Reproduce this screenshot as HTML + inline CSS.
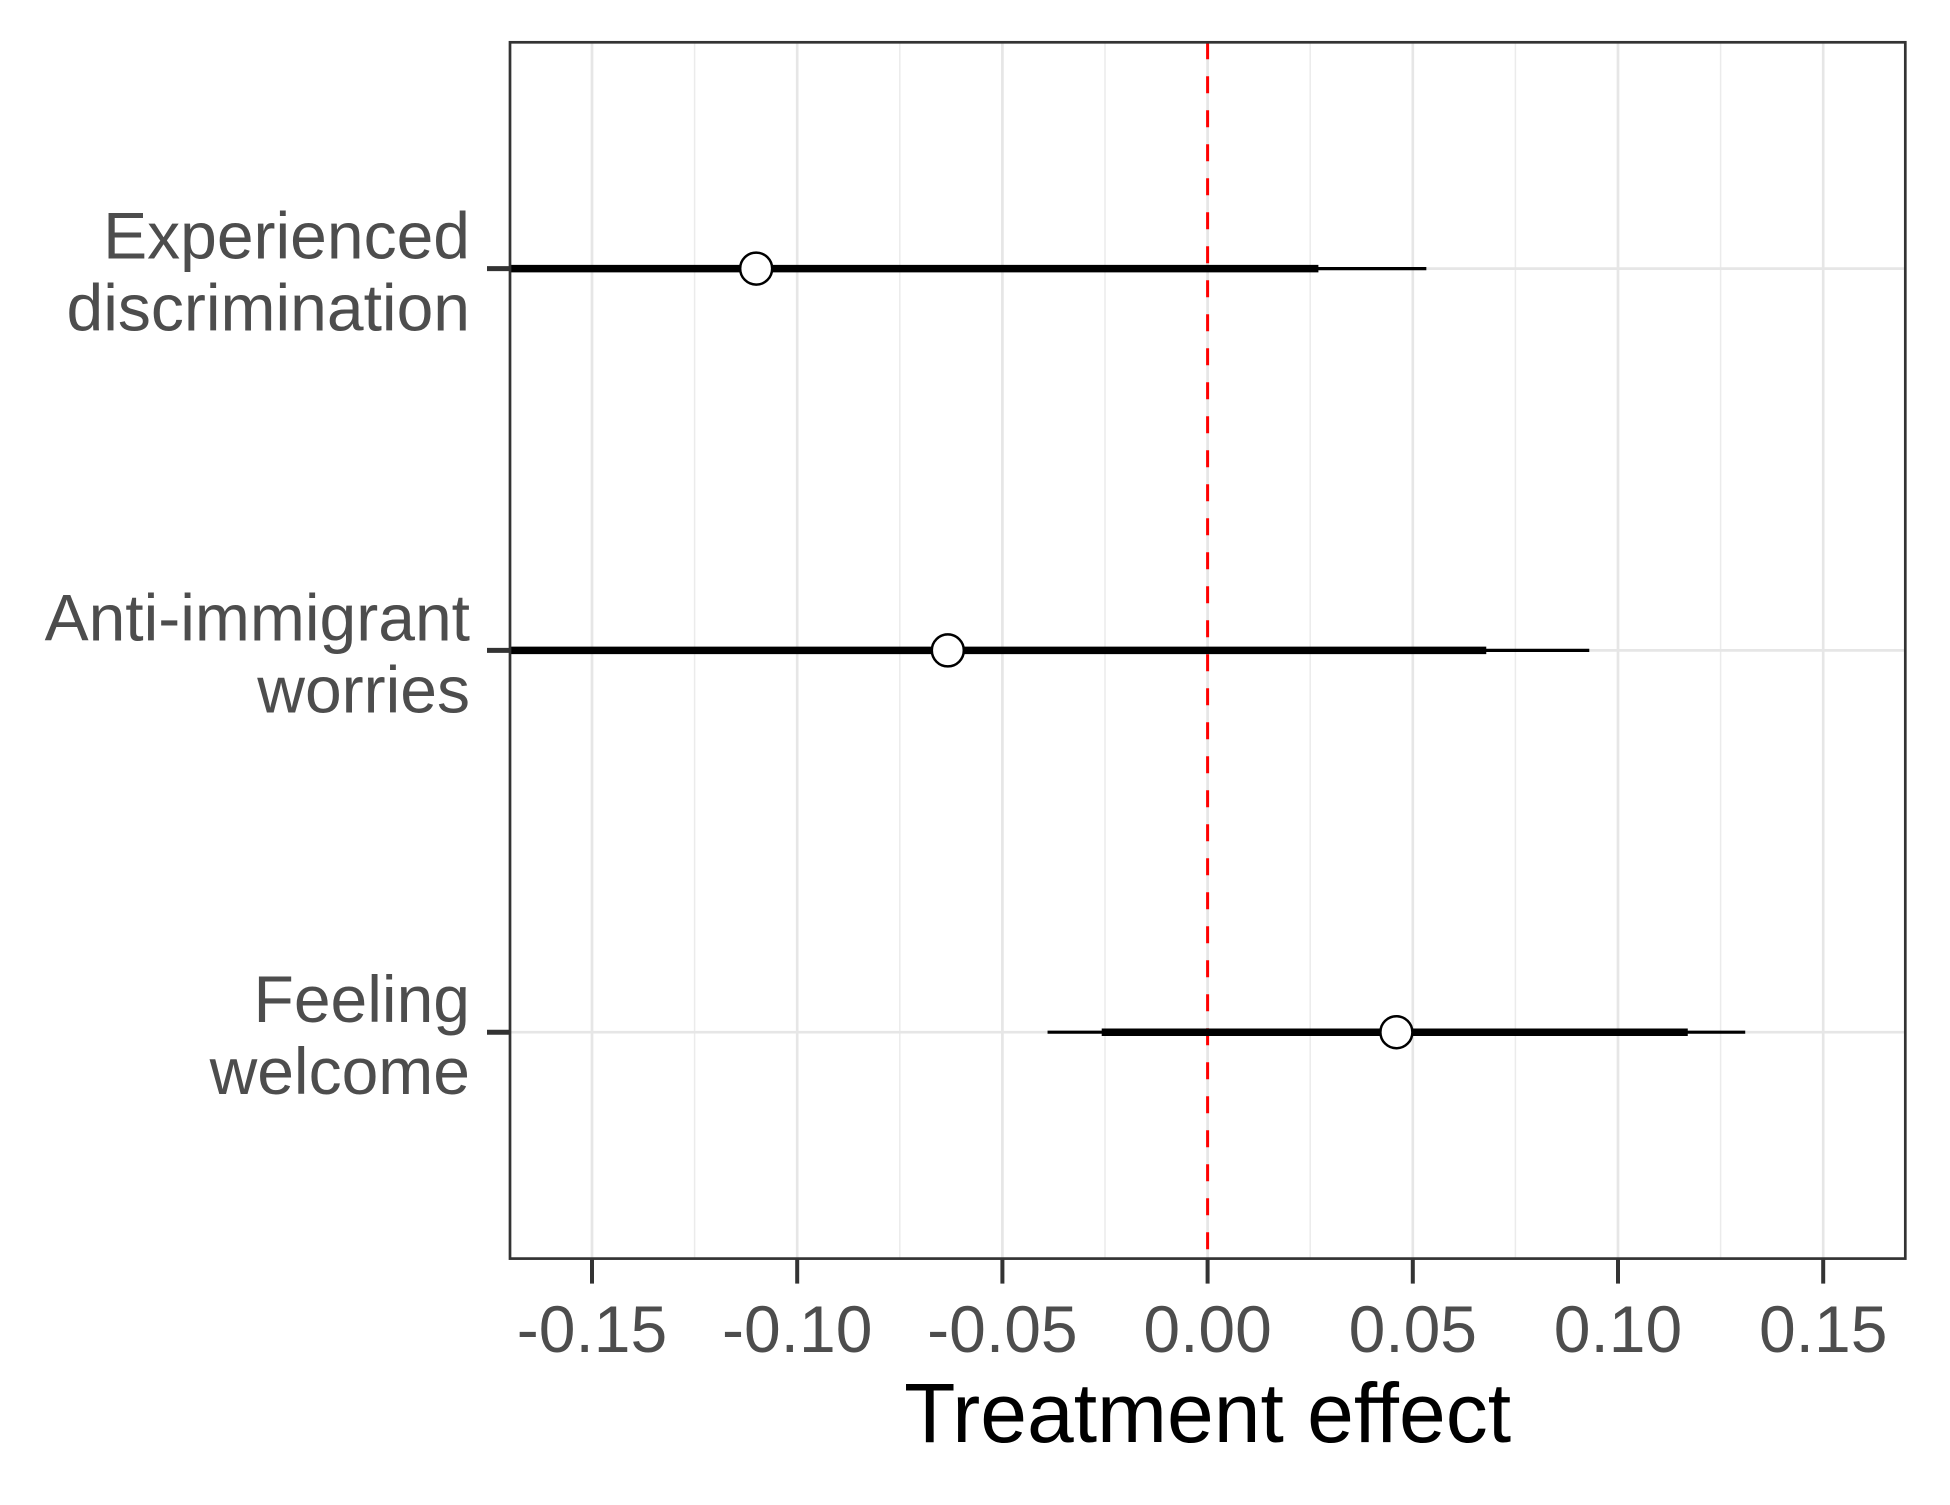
<!DOCTYPE html>
<html><head><meta charset="utf-8"><style>
html,body{margin:0;padding:0;background:#fff;}
svg text{font-family:"Liberation Sans",Arial,sans-serif;}
</style></head><body>
<svg id="chart" width="1950" height="1500" xmlns="http://www.w3.org/2000/svg"></svg>
<script>
const categories = ["Experienced\ndiscrimination", "Anti-immigrant\nworries", "Feeling\nwelcome"];
const estimates = [-0.110, -0.0633, 0.046];
const innerLow = [-0.247, -0.194, -0.0258];
const innerHigh = [0.027, 0.0679, 0.117];
const outerLow = [-0.273, -0.220, -0.039];
const outerHigh = [0.0533, 0.093, 0.131];
const xTicks = [-0.15, -0.10, -0.05, 0.00, 0.05, 0.10, 0.15];
const xTickLabels = ["-0.15", "-0.10", "-0.05", "0.00", "0.05", "0.10", "0.15"];
const minorTicks = [-0.125, -0.075, -0.025, 0.025, 0.075, 0.125];

const NS = "http://www.w3.org/2000/svg";
const svg = document.getElementById("chart");
const P = {l:510, t:42.3, r:1905.3, b:1258.6};
const x = v => 1207.6 + v * (615.6/0.15);
const yPos = [268.6, 650.4, 1032.2];
const y = i => yPos[i];
function mk(tag, attrs, parent){const e=document.createElementNS(NS,tag);for(const k in attrs)e.setAttribute(k,attrs[k]);(parent||svg).appendChild(e);return e;}

const defs = mk("defs",{});
const cp = mk("clipPath",{id:"clip"},defs);
mk("rect",{x:P.l,y:P.t,width:P.r-P.l,height:P.b-P.t},cp);

const grid = mk("g",{});


minorTicks.forEach(v=>{const l=mk("line",{x1:x(v),x2:x(v),y1:P.t,y2:P.b,stroke:"#ebebeb","stroke-width":1.5},grid);

});
xTicks.forEach(v=>{const l=mk("line",{x1:x(v),x2:x(v),y1:P.t,y2:P.b,stroke:"#e6e6e6","stroke-width":2.7},grid);

});
categories.forEach((c,i)=>{const l=mk("line",{x1:P.l,x2:P.r,y1:y(i),y2:y(i),stroke:"#e6e6e6","stroke-width":2.7},grid);

});

const zl = mk("line",{x1:x(0),x2:x(0),y1:P.t,y2:P.b,stroke:"#ff0000","stroke-width":3,"stroke-dasharray":"17,17"});



const marks = mk("g",{"clip-path":"url(#clip)"});
categories.forEach((c,i)=>{
  const o=mk("line",{x1:x(outerLow[i]),x2:x(outerHigh[i]),y1:y(i),y2:y(i),stroke:"#000","stroke-width":3.2},marks);
  
  
  const n=mk("line",{x1:x(innerLow[i]),x2:x(innerHigh[i]),y1:y(i),y2:y(i),stroke:"#000","stroke-width":7.5},marks);
  
  
  const p=mk("circle",{cx:x(estimates[i]),cy:y(i),r:16,fill:"#fff",stroke:"#000","stroke-width":2.5},marks);
  
  
});

const frame = mk("rect",{x:P.l,y:P.t,width:P.r-P.l,height:P.b-P.t,fill:"none",stroke:"#333","stroke-width":2.7});



xTicks.forEach((v,i)=>{
  const t=mk("line",{x1:x(v),x2:x(v),y1:P.b,y2:P.b+25,stroke:"#333","stroke-width":4});
  
  
  const lb=mk("text",{x:x(v),y:1352,"text-anchor":"middle","font-size":66,fill:"#4d4d4d"});
  lb.textContent=xTickLabels[i];
  
  
});
categories.forEach((c,i)=>{
  const t=mk("line",{x1:P.l-23,x2:P.l,y1:y(i),y2:y(i),stroke:"#333","stroke-width":5});
  
  
  const lines=c.split("\n");
  const lb=mk("text",{x:470,"text-anchor":"end","font-size":66,fill:"#4d4d4d"});
  
  
  lines.forEach((s,k)=>{const ts=mk("tspan",{x:470,y:y(i)-10+k*72},lb);ts.textContent=s;});
});
const title=mk("text",{x:1207.6,y:1442,"text-anchor":"middle","font-size":84,fill:"#000"});
title.textContent="Treatment effect";


</script>
</body></html>
